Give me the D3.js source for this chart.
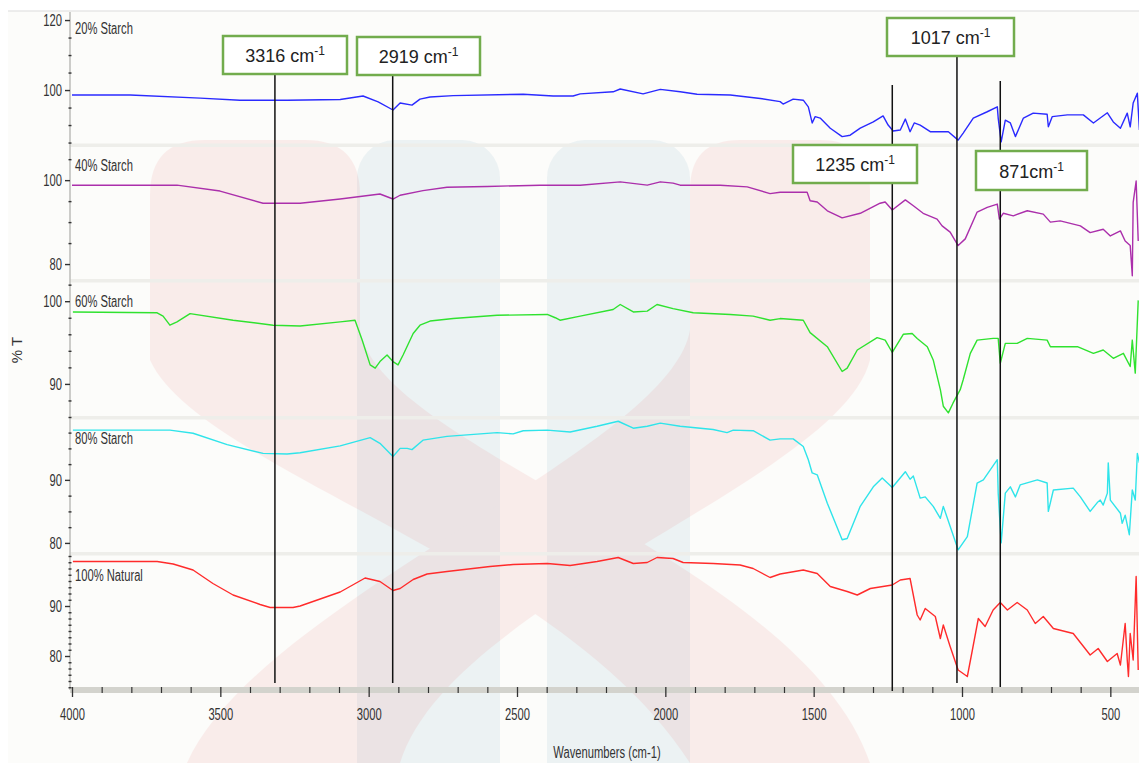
<!DOCTYPE html>
<html>
<head>
<meta charset="utf-8">
<script src="https://cdn.jsdelivr.net/npm/d3@7"></script>
<style>
  html, body { margin: 0; padding: 0; background: #ffffff; }
  svg { display: block; }
  .narrow { font-family: "Liberation Sans", Arial, sans-serif; }
  .plain { font-family: "Liberation Sans", Arial, sans-serif; }
</style>
</head>
<body>
<svg id="chart" width="1139" height="763"></svg>
<script>
// FTIR transmittance spectra, each point is [wavenumber (cm-1), %T]
const starch20 = [
  [4000,98.6],[3804,98.6],[3568,97.7],[3434,97.1],[3275,97.1],[3096,97.3],[3019,98.3],[2968,96.6],
  [2918,94.3],[2894,96.3],[2854,95.7],[2827,97.4],[2793,98.0],[2715,98.4],[2479,98.8],[2378,98.3],
  [2311,98.3],[2287,98.9],[2176,99.5],[2152,100.3],[2075,98.9],[2017,100.2],[1950,99.5],[1893,98.8],
  [1781,98.6],[1680,97.6],[1613,96.7],[1603,96.0],[1569,97.4],[1535,97.1],[1518,95.2],[1505,90.6],
  [1495,92.4],[1478,92.0],[1444,89.1],[1404,86.7],[1377,87.1],[1343,89.1],[1299,90.9],[1266,92.6],
  [1249,90.0],[1232,88.3],[1208,88.6],[1191,91.7],[1175,88.1],[1161,90.6],[1141,90.0],[1107,88.1],
  [1046,88.1],[1013,85.7],[996,87.7],[962,92.0],[915,93.8],[881,95.2],[878,92.0],[868,85.2],
  [854,91.4],[837,90.6],[820,86.7],[793,92.0],[760,93.4],[713,93.1],[709,89.5],[696,92.4],
  [645,92.9],[591,92.9],[557,90.6],[510,93.5],[490,90.9],[466,89.1],[443,93.4],[433,89.5],
  [423,96.3],[409,99.1],[402,88.6]
];
const starch40 = [
  [4000,98.8],[3646,98.8],[3501,97.4],[3356,94.5],[3231,94.5],[3096,95.5],[2962,96.7],[2918,95.5],
  [2894,96.4],[2817,97.5],[2736,98.3],[2601,98.5],[2422,98.8],[2287,98.8],[2152,99.6],[2061,98.8],
  [2017,99.6],[1974,99.3],[1950,98.8],[1815,98.8],[1724,98.4],[1647,96.8],[1613,97.1],[1522,97.1],
  [1512,95.1],[1488,94.8],[1454,92.7],[1404,91.0],[1343,92.1],[1276,94.5],[1259,94.8],[1235,92.9],
  [1191,95.3],[1164,93.9],[1131,92.1],[1084,90.7],[1067,89.1],[1040,87.6],[1013,84.4],[989,86.0],
  [949,92.4],[915,93.5],[881,94.3],[874,90.7],[861,92.1],[827,91.5],[780,92.7],[726,91.9],
  [702,90.0],[669,90.3],[601,89.1],[568,87.5],[524,88.3],[500,86.7],[466,87.9],[450,85.5],
  [433,84.4],[426,77.2],[423,94.7],[413,99.8],[406,85.5]
];
const starch60 = [
  [3997,98.7],[3713,98.6],[3693,98.2],[3670,97.1],[3646,97.5],[3602,98.5],[3457,97.7],[3322,97.1],
  [3231,97.0],[3096,97.5],[3046,97.7],[3022,95.3],[2995,92.3],[2978,91.9],[2962,92.7],[2938,93.5],
  [2918,92.7],[2901,92.3],[2884,93.5],[2850,96.1],[2827,97.1],[2793,97.6],[2715,97.9],[2567,98.3],
  [2398,98.4],[2371,98.0],[2355,97.7],[2287,98.2],[2176,99.0],[2152,99.6],[2108,98.7],[2061,98.8],
  [2028,99.6],[1974,99.1],[1906,98.6],[1781,98.4],[1704,98.2],[1647,97.7],[1613,97.9],[1535,97.7],
  [1512,96.2],[1454,94.5],[1404,91.5],[1387,91.9],[1353,94.1],[1286,95.6],[1259,95.3],[1235,93.8],
  [1198,96.0],[1168,96.1],[1151,95.5],[1117,94.5],[1097,92.9],[1073,89.3],[1063,87.3],[1046,86.5],
  [1030,87.7],[1006,89.3],[996,90.5],[972,93.7],[949,95.3],[895,95.5],[878,95.5],[871,92.5],
  [854,94.9],[814,94.9],[780,95.5],[713,95.3],[702,94.5],[611,94.5],[557,93.7],[524,94.1],
  [490,93.1],[456,93.7],[433,92.1],[426,95.3],[416,91.3],[406,100.1]
];
const starch80 = [
  [3997,97.9],[3670,97.9],[3592,97.4],[3477,95.6],[3356,94.2],[3275,94.1],[3231,94.3],[3096,95.4],
  [2995,96.7],[2962,95.8],[2918,93.7],[2894,95.0],[2870,95.0],[2854,94.8],[2817,96.3],[2736,96.9],
  [2567,97.5],[2513,97.3],[2479,97.8],[2398,97.9],[2321,97.6],[2230,98.5],[2159,99.3],[2108,98.2],
  [2061,98.5],[2017,99.0],[1950,98.5],[1839,98.0],[1792,97.5],[1771,97.9],[1704,97.8],[1647,96.3],
  [1613,96.5],[1569,96.5],[1535,95.3],[1518,93.2],[1505,91.1],[1488,90.8],[1454,86.3],[1404,80.5],
  [1387,80.7],[1343,85.8],[1299,88.9],[1269,90.3],[1235,88.8],[1191,91.3],[1175,90.1],[1164,90.6],
  [1141,87.1],[1124,87.3],[1097,85.8],[1073,83.9],[1063,85.8],[1013,78.9],[982,81.0],[949,89.5],
  [928,90.0],[881,93.2],[878,87.9],[868,80.0],[854,87.9],[837,88.9],[820,87.3],[804,89.2],
  [746,90.0],[713,89.5],[709,85.0],[692,88.4],[625,88.7],[601,87.3],[568,85.0],[544,86.4],
  [534,86.8],[524,86.0],[510,87.9],[507,92.7],[500,86.8],[466,84.7],[460,83.1],[450,84.4],
  [436,81.3],[426,88.4],[416,86.8],[409,94.2],[402,92.7]
];
const natural100 = [
  [3997,98.9],[3713,98.9],[3659,98.4],[3592,97.2],[3525,94.5],[3457,92.2],[3366,90.3],[3332,89.7],
  [3255,89.7],[3231,90.0],[3096,92.8],[3012,95.6],[2962,94.9],[2918,93.1],[2894,93.5],[2850,95.3],
  [2803,96.4],[2736,96.9],[2591,97.9],[2513,98.3],[2398,98.5],[2321,98.1],[2230,98.9],[2159,99.7],
  [2108,98.5],[2061,98.7],[2028,99.7],[1974,99.5],[1940,98.7],[1839,98.5],[1748,98.2],[1704,97.5],
  [1647,95.7],[1613,96.4],[1535,97.2],[1488,96.5],[1444,93.9],[1387,92.9],[1353,92.2],[1309,93.5],
  [1235,94.2],[1208,95.2],[1175,95.5],[1151,88.2],[1141,87.2],[1124,89.5],[1090,87.9],[1073,83.5],
  [1063,86.2],[1040,81.9],[1013,77.2],[982,75.9],[965,81.2],[945,87.5],[922,85.9],[895,89.2],
  [871,90.7],[847,89.2],[814,90.7],[780,89.2],[753,86.5],[726,87.9],[692,85.5],[625,84.5],
  [568,80.2],[541,81.5],[510,78.9],[477,80.5],[466,78.2],[450,86.5],[443,79.2],[439,75.9],
  [433,84.5],[423,79.2],[413,95.9],[406,77.2]
];

const seriesNames = ["20% Starch", "40% Starch", "60% Starch", "80% Starch", "100% Natural"];
const seriesData = [starch20, starch40, starch60, starch80, natural100];

// %T range shown in each stacked panel, labelled ticks and minor tick step
const panelDomains = [[84.3, 122.3], [76.2, 107.9], [86.0, 102.2], [78.4, 99.5], [73.2, 100]];
const panelMajorTicks = [[100, 120], [80, 100], [90, 100], [80, 90], [80, 90]];
const panelMinorStep = [5, 5, 2, 2.5, 1.25];

const xTicks = [4000, 3500, 3000, 2500, 2000, 1500, 1000, 500];

// assigned absorption bands
const peakWavenumbers = [3316, 2919, 1235, 1017, 871];
const peakLabels = ["3316 cm", "2919 cm", "1235 cm", "1017 cm", "871cm"];

// ---------- layout & style ----------
const seriesColors = ["#2a2aff", "#ab2fab", "#2fe22f", "#2fe4ea", "#ff2b2b"];
const panelPx = [[12, 145], [147, 280], [283, 417], [420, 553], [556, 690]];
const nameBaseline = [34, 171, 307, 444, 581];
const separatorsY = [145, 280.5, 417.5, 553.5];
const boxLayout = [
  { x: 223, y: 36, w: 124, h: 38, top: 74, bottom: 683 },
  { x: 357, y: 37, w: 123, h: 38, top: 75, bottom: 683 },
  { x: 793, y: 145, w: 124, h: 38, top: 85, bottom: 691 },
  { x: 887, y: 18, w: 127, h: 38, top: 56, bottom: 683 },
  { x: 976, y: 151, w: 111, h: 39, top: 81, bottom: 687 }
];
const axisX = 70, axisY = 687;
const condense = 0.7;   // horizontal squeeze of the instrument-software lettering

const svg = d3.select("#chart");
const x = d3.scaleLinear().domain([4000, 400]).range([72, 1140]);

// page background and frame
svg.append("rect").attr("x", 0).attr("y", 0).attr("width", 1139).attr("height", 763).attr("fill", "#ffffff");
svg.append("rect").attr("x", 8).attr("y", 11).attr("width", 1131).attr("height", 752).attr("fill", "#fcfcfa");
svg.append("line").attr("x1", 8).attr("x2", 1139).attr("y1", 11).attr("y2", 11)
  .attr("stroke", "#dcdcdc").attr("stroke-width", 1.2);

// faint logo in the background
const wm = svg.append("g");
const wmBlue = wm.append("g").attr("opacity", 0.075).attr("fill", "#23739b");
wmBlue.append("rect").attr("x", 357).attr("y", 140).attr("width", 143).attr("height", 700).attr("rx", 38);
wmBlue.append("rect").attr("x", 547).attr("y", 140).attr("width", 143).attr("height", 700).attr("rx", 38);
const wmRed = wm.append("g").attr("opacity", 0.065).attr("fill", "#de2121");
wmRed.append("path").attr("d",
  "M150,195 Q150,140 205,140 L305,140 Q360,140 360,195 L360,330 C380,450 800,560 870,763 L870,800 L690,800 L690,763 C560,560 200,470 150,360 Z");
wmRed.append("path").attr("d",
  "M690,190 Q690,140 740,140 L820,140 Q870,140 870,190 L870,360 C840,480 450,600 400,763 L400,800 L187,800 L187,763 C260,600 670,450 690,330 Z");

// panel separators
svg.append("g").selectAll("rect").data(separatorsY).join("rect")
  .attr("x", axisX).attr("y", d => d - 1.5).attr("width", 1139 - axisX).attr("height", 3.5)
  .attr("fill", "#eeeeea");

// y axis line
svg.append("line").attr("x1", axisX).attr("x2", axisX).attr("y1", 12).attr("y2", axisY + 3)
  .attr("stroke", "#bdbdb8").attr("stroke-width", 1.5);

// x axis band
svg.append("rect").attr("x", axisX).attr("y", axisY).attr("width", 1139 - axisX).attr("height", 6)
  .attr("fill", "#d3d3cd");

// minor x ticks every 100 cm-1
const xMinorAxis = d3.axisBottom(x)
  .tickValues(d3.range(4000, 399, -100).filter(v => !xTicks.includes(v)))
  .tickSize(6).tickFormat("");
svg.append("g").attr("transform", `translate(0,${axisY})`).call(xMinorAxis)
  .call(g => g.select(".domain").remove())
  .call(g => g.selectAll("line").attr("stroke", "#333").attr("stroke-width", 1.2));

// major x ticks with labels
const xAxis = d3.axisBottom(x).tickValues(xTicks).tickSize(10).tickFormat(d3.format("d"));
svg.append("g").attr("transform", `translate(0,${axisY})`).call(xAxis)
  .call(g => g.select(".domain").remove())
  .call(g => g.selectAll("line").attr("stroke", "#333").attr("stroke-width", 1.3))
  .call(g => g.selectAll("text").attr("class", "narrow").attr("font-size", 16)
    .attr("fill", "#333").attr("y", 22).attr("dy", "0.71em").attr("font-family", null));

svg.append("text").attr("class", "narrow").attr("x", 607).attr("y", 758)
  .attr("text-anchor", "middle").attr("font-size", 16).attr("fill", "#333")
  .text("Wavenumbers (cm-1)");

svg.append("text").attr("class", "plain")
  .attr("transform", "translate(22,350) rotate(-90)")
  .attr("text-anchor", "middle").attr("font-size", 15).attr("fill", "#333")
  .text("% T");

// stacked panels: y axis, spectrum, sample name
seriesData.forEach((data, i) => {
  const [lo, hi] = panelDomains[i];
  const y = d3.scaleLinear().domain([lo, hi]).range([panelPx[i][1], panelPx[i][0]]);

  const step = panelMinorStep[i];
  const minor = d3.range(Math.ceil(lo / step) * step, hi + 1e-9, step)
    .filter(v => !panelMajorTicks[i].some(m => Math.abs(m - v) < 1e-6));
  svg.append("g").attr("transform", `translate(${axisX + 1.5},0)`)
    .call(d3.axisLeft(y).tickValues(minor).tickSize(3).tickFormat(""))
    .call(g => g.select(".domain").remove())
    .call(g => g.selectAll("line").attr("stroke", "#333").attr("stroke-width", 1.4));

  svg.append("g").attr("transform", `translate(${axisX},0)`)
    .call(d3.axisLeft(y).tickValues(panelMajorTicks[i]).tickSize(5).tickPadding(3).tickFormat(d3.format("d")))
    .call(g => g.select(".domain").remove())
    .call(g => g.selectAll("line").attr("stroke", "#333").attr("stroke-width", 1.4))
    .call(g => g.selectAll("text").attr("class", "narrow").attr("font-family", null)
      .attr("font-size", 16).attr("fill", "#333"));

  const line = d3.line().x(d => x(d[0])).y(d => y(d[1]));
  svg.append("path").datum(data)
    .attr("d", line)
    .attr("fill", "none")
    .attr("stroke", seriesColors[i])
    .attr("stroke-width", 1.4)
    .attr("stroke-linejoin", "round");

  svg.append("text").attr("class", "narrow")
    .attr("x", 75).attr("y", nameBaseline[i])
    .attr("font-size", 16).attr("fill", "#333")
    .text(seriesNames[i]);
});

// band markers and their labels
peakWavenumbers.forEach((wn, i) => {
  const b = boxLayout[i];
  svg.append("line")
    .attr("x1", x(wn)).attr("x2", x(wn))
    .attr("y1", b.top).attr("y2", b.bottom)
    .attr("stroke", "#111").attr("stroke-width", 1.5);
});
peakWavenumbers.forEach((wn, i) => {
  const b = boxLayout[i];
  svg.append("rect")
    .attr("x", b.x).attr("y", b.y).attr("width", b.w).attr("height", b.h)
    .attr("fill", "#ffffff").attr("stroke", "#72ac4d").attr("stroke-width", 2.5);
  const t = svg.append("text").attr("class", "plain")
    .attr("x", b.x + b.w / 2).attr("y", b.y + b.h / 2 + 7)
    .attr("text-anchor", "middle").attr("font-size", 18).attr("fill", "#222");
  t.append("tspan").text(peakLabels[i]);
  t.append("tspan").attr("font-size", 12).attr("dy", -7).text("-1");
});

// squeeze the axis / sample lettering into a condensed face
svg.selectAll("text.narrow").each(function () {
  const w = this.getComputedTextLength();
  d3.select(this).attr("textLength", w * condense).attr("lengthAdjust", "spacingAndGlyphs");
});
</script>
</body>
</html>
